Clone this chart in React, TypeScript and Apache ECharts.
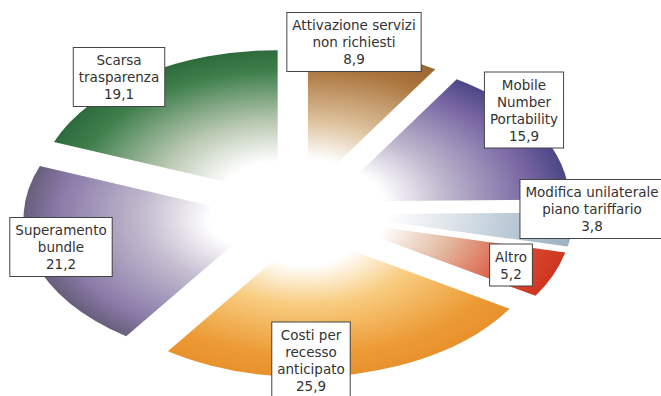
import React, { useEffect, useRef } from "react";
import * as echarts from "echarts";

// Data (clockwise from 12 o'clock)
const categories = [
  "Attivazione servizi\nnon richiesti",
  "Mobile\nNumber\nPortability",
  "Modifica unilaterale\npiano tariffario",
  "Altro",
  "Costi per\nrecesso\nanticipato",
  "Superamento\nbundle",
  "Scarsa\ntrasparenza",
];
const values = [8.9, 15.9, 3.8, 5.2, 25.9, 21.2, 19.1];

// Styles
const sliceColors = [
  ["#dcc09a", "#aa743c", "#8e5c2c"],
  ["#bcb4cc", "#7462a0", "#27306e"],
  ["#dde4ea", "#aabdcc", "#94aabd"],
  ["#e4bca4", "#d8462c", "#c82818"],
  ["#f8cc80", "#ec9a34", "#e48a28"],
  ["#c4bccf", "#8a7aa8", "#4c4656"],
  ["#bccab4", "#3f7f4c", "#1e5a2e"],
];
const labelCenters = [
  [354, 42],
  [524, 110],
  [592, 209],
  [511, 265],
  [311, 360],
  [61, 247],
  [119, 77],
];

const K = 0.6; // vertical squash of the pie
const CX = 298;
const CY = 212 / K;
const R = 240;

const fmt = (v: number) => v.toFixed(1).replace(".", ",");

export default function App() {
  const pieRef = useRef<HTMLDivElement>(null);
  const labRef = useRef<HTMLDivElement>(null);

  useEffect(() => {
    if (!pieRef.current || !labRef.current) return;
    const pie = echarts.init(pieRef.current, null, { renderer: "svg" });
    const lab = echarts.init(labRef.current, null, { renderer: "svg" });

    const pieData = categories.map((name, i) => ({
      name,
      value: values[i],
      selected: true,
      itemStyle: {
        color: {
          type: "radial",
          x: CX,
          y: CY,
          r: R + 30,
          global: true,
          colorStops: [
            { offset: 0, color: "#ffffff" },
            { offset: 0.2, color: "#ffffff" },
            { offset: 0.44, color: sliceColors[i][0] },
            { offset: 0.76, color: sliceColors[i][1] },
            { offset: 1, color: sliceColors[i][2] },
          ],
        },
      },
    }));

    pie.setOption({
      animation: false,
      backgroundColor: "transparent",
      series: [
        {
          type: "pie",
          center: [CX, CY],
          radius: [0, R],
          startAngle: 90,
          clockwise: true,
          selectedMode: "multiple",
          selectedOffset: 36,
          silent: true,
          label: { show: false },
          labelLine: { show: false },
          itemStyle: { borderWidth: 0 },
          emphasis: { disabled: true },
          data: pieData,
        },
      ],
    });

    lab.setOption({
      animation: false,
      backgroundColor: "transparent",
      series: [
        {
          type: "pie",
          center: [CX, 212],
          radius: [0, 10],
          startAngle: 90,
          silent: true,
          itemStyle: { color: "rgba(0,0,0,0)" },
          emphasis: { disabled: true },
          labelLine: { show: false },
          label: {
            show: true,
            position: "outside",
            formatter: (p: any) => `${p.name}\n${fmt(p.value)}`,
            fontFamily: "DejaVu Sans",
            fontSize: 13.5,
            lineHeight: 17,
            color: "#333333",
            align: "center",
            backgroundColor: "#ffffff",
            borderColor: "#444444",
            borderWidth: 1,
            padding: [4, 5, 3, 5],
          },
          labelLayout: (p: any) => ({
            x: labelCenters[p.dataIndex][0],
            y: labelCenters[p.dataIndex][1],
            align: "center",
            verticalAlign: "middle",
          }),
          data: categories.map((name, i) => ({ name, value: values[i] })),
        },
      ],
    });

    return () => {
      pie.dispose();
      lab.dispose();
    };
  }, []);

  return (
    <div
      style={{
        position: "fixed",
        left: 0,
        top: 0,
        width: 661,
        height: 396,
        overflow: "hidden",
        background: "#ffffff",
      }}
    >
      <div
        ref={pieRef}
        style={{
          position: "absolute",
          left: 0,
          top: 0,
          width: 661,
          height: Math.round(396 / K),
          transform: `scaleY(${K})`,
          transformOrigin: "0 0",
        }}
      />
      <div
        ref={labRef}
        style={{ position: "absolute", left: 0, top: 0, width: 661, height: 396 }}
      />
    </div>
  );
}
